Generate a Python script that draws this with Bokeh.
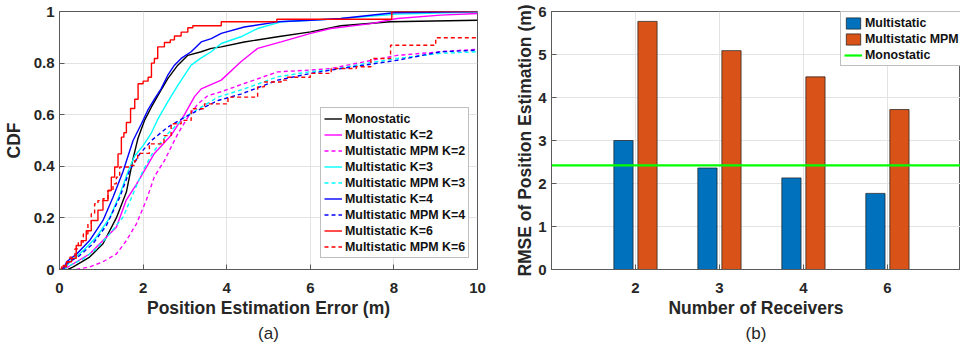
from bokeh.plotting import figure
from bokeh.layouts import row
from bokeh.models import (Range1d, FixedTicker, Legend, LegendItem, Title,
                          NumeralTickFormatter, ColumnDataSource)
from bokeh.transform import dodge
from bokeh.embed import file_html
from bokeh.resources import INLINE

FONT = "Liberation Sans"

# ---------------- (a) CDF of position estimation error ----------------
mono_x = [0.2, 0.33, 0.72, 1.04, 1.36, 1.6, 1.76, 1.88, 2.04, 2.2, 2.36, 2.59, 2.83, 3.07, 3.39, 3.63, 3.87, 4.42, 5.22, 6.01, 6.73, 7.92, 10]
mono_y = [0, 0.01, 0.048, 0.1, 0.2, 0.3, 0.43, 0.51, 0.58, 0.63, 0.676, 0.74, 0.792, 0.83, 0.844, 0.857, 0.863, 0.882, 0.902, 0.921, 0.945, 0.96, 0.966]

k2_x = [0.1, 0.41, 0.72, 1.04, 1.36, 1.6, 1.84, 2.08, 2.27, 2.67, 2.99, 3.23, 3.39, 3.87, 4.34, 4.74, 5.3, 6.01, 6.49, 7.45, 8.08, 9.12, 10]
k2_y = [0, 0.03, 0.06, 0.112, 0.164, 0.27, 0.33, 0.397, 0.45, 0.52, 0.6, 0.67, 0.70, 0.734, 0.805, 0.857, 0.882, 0.915, 0.934, 0.953, 0.973, 0.986, 0.992]

mpm2_x = [0.4, 0.72, 1.04, 1.36, 1.6, 1.84, 2.08, 2.27, 2.51, 2.83, 3.07, 3.31, 3.55, 3.87, 4.42, 5.22, 6.01, 6.49, 7.29, 8.08, 9.12, 10]
mpm2_y = [0, 0.01, 0.03, 0.06, 0.112, 0.177, 0.27, 0.36, 0.422, 0.526, 0.59, 0.642, 0.674, 0.689, 0.721, 0.766, 0.773, 0.779, 0.805, 0.83, 0.844, 0.854]

k3_x = [0.1, 0.25, 0.57, 0.88, 1.2, 1.44, 1.64, 1.8, 2.0, 2.2, 2.36, 2.59, 2.83, 3.15, 3.39, 3.63, 3.87, 4.34, 4.74, 5.3, 6.01, 6.73, 8.08, 10]
k3_y = [0, 0.03, 0.074, 0.125, 0.2, 0.29, 0.38, 0.44, 0.48, 0.53, 0.585, 0.65, 0.714, 0.792, 0.82, 0.844, 0.876, 0.902, 0.934, 0.96, 0.966, 0.973, 0.99, 0.998]

mpm3_x = [0.1, 0.25, 0.57, 0.88, 1.2, 1.52, 1.76, 2.0, 2.24, 2.59, 2.99, 3.39, 3.79, 4.42, 5.22, 6.01, 6.49, 7.29, 8.08, 9.12, 10]
mpm3_y = [0, 0.016, 0.041, 0.08, 0.138, 0.203, 0.293, 0.384, 0.455, 0.526, 0.59, 0.629, 0.668, 0.70, 0.747, 0.767, 0.773, 0.798, 0.818, 0.838, 0.844]

k4_x = [0.1, 0.17, 0.41, 0.72, 1.04, 1.28, 1.52, 1.76, 1.96, 2.12, 2.27, 2.43, 2.59, 2.75, 2.91, 3.15, 3.39, 3.63, 3.87, 4.42, 5.22, 6.01, 6.73, 8.0, 10]
k4_y = [0, 0.03, 0.06, 0.112, 0.19, 0.28, 0.38, 0.5, 0.565, 0.62, 0.66, 0.70, 0.753, 0.792, 0.818, 0.844, 0.882, 0.895, 0.915, 0.94, 0.96, 0.966, 0.973, 0.995, 1.0]

mpm4_x = [0.05, 0.17, 0.48, 0.8, 1.12, 1.44, 1.68, 1.92, 2.2, 2.59, 2.99, 3.39, 3.79, 4.34, 5.22, 6.01, 6.49, 7.29, 8.08, 9.12, 10]
mpm4_y = [0, 0.022, 0.054, 0.1, 0.17, 0.28, 0.384, 0.448, 0.5, 0.552, 0.59, 0.623, 0.655, 0.68, 0.734, 0.76, 0.773, 0.792, 0.811, 0.844, 0.85]

k6_x = [0, 0.05, 0.17, 0.29, 0.4, 0.52, 0.64, 0.76, 0.92, 1.04, 1.16, 1.24, 1.32, 1.4, 1.48, 1.54, 1.6, 1.7, 1.8, 1.88, 2.0, 2.12, 2.2, 2.27, 2.35, 2.51, 2.65, 2.75, 2.91, 3.07, 3.19, 3.87, 5.2, 7.95, 10]
k6_y = [0, 0.01, 0.03, 0.043, 0.093, 0.112, 0.15, 0.19, 0.23, 0.267, 0.306, 0.358, 0.397, 0.448, 0.513, 0.53, 0.57, 0.624, 0.66, 0.72, 0.73, 0.745, 0.8, 0.818, 0.863, 0.88, 0.89, 0.905, 0.92, 0.937, 0.945, 0.96, 0.97, 1.0, 1.0]

mpm6_x = [0, 0.09, 0.17, 0.25, 0.37, 0.45, 0.57, 0.68, 0.76, 0.84, 0.92, 1.04, 1.16, 1.28, 1.36, 1.44, 1.68, 1.8, 1.87, 2.15, 2.5, 2.67, 2.91, 3.15, 3.47, 4.03, 4.74, 4.9, 5.3, 5.45, 6.0, 6.5, 7.1, 7.45, 7.92, 9.0, 10]
mpm6_y = [0, 0.016, 0.03, 0.048, 0.08, 0.106, 0.138, 0.177, 0.216, 0.255, 0.267, 0.274, 0.306, 0.332, 0.358, 0.397, 0.403, 0.422, 0.45, 0.487, 0.519, 0.565, 0.578, 0.623, 0.642, 0.668, 0.708, 0.727, 0.734, 0.745, 0.76, 0.779, 0.786, 0.818, 0.869, 0.898, 0.898]

cdf_xticks = [0, 2, 4, 6, 8, 10]
cdf_yticks = [0, 0.2, 0.4, 0.6, 0.8, 1]

# ---------------- (b) RMSE vs number of receivers ----------------
receivers = ["2", "3", "4", "6"]
rmse_multi = [3.0, 2.36, 2.13, 1.77]
rmse_mpm = [5.77, 5.09, 4.48, 3.72]
rmse_mono = 2.42
rmse_yticks = [0, 1, 2, 3, 4, 5, 6]

AXC = "#5a5a5a"


def style(p):
    for ax in p.axis:
        ax.major_label_text_font = FONT
        ax.major_label_text_font_size = "15px"
        ax.major_label_text_font_style = "bold"
        ax.major_label_text_color = "#262626"
        ax.axis_label_text_font = FONT
        ax.axis_label_text_font_size = "17.5px"
        ax.axis_label_text_font_style = "bold"
        ax.axis_label_text_color = "#262626"
        ax.axis_line_color = AXC
        ax.major_tick_line_color = AXC
        ax.major_tick_in = 5
        ax.major_tick_out = 0
        ax.minor_tick_line_color = None
    p.xaxis.major_label_standoff = 13
    p.xaxis.axis_label_standoff = 2
    p.yaxis.major_label_standoff = 5
    p.grid.grid_line_color = "#e3e3e3"
    p.grid.grid_line_width = 1
    p.outline_line_color = AXC
    p.outline_line_width = 1
    p.background_fill_color = "white"
    p.border_fill_color = "white"


def legend_style(lg):
    lg.label_text_font = FONT
    lg.label_text_font_size = "12.4px"
    lg.label_text_font_style = "bold"
    lg.label_text_color = "#111111"
    lg.glyph_width = 18
    lg.label_standoff = 3
    lg.padding = 3
    lg.spacing = 1
    lg.margin = 0
    lg.border_line_color = "#808080"
    lg.border_line_width = 1
    lg.background_fill_color = "white"
    lg.background_fill_alpha = 1


# ---------- figure (a) ----------
p1 = figure(width=490, height=347, x_range=Range1d(cdf_xticks[0], cdf_xticks[-1]),
            y_range=Range1d(cdf_yticks[0], cdf_yticks[-1]),
            output_backend="svg", toolbar_location=None,
            min_border_left=58, min_border_right=13, min_border_top=11, min_border_bottom=78)
p1.xaxis.ticker = FixedTicker(ticks=cdf_xticks)
p1.yaxis.ticker = FixedTicker(ticks=cdf_yticks)
p1.yaxis.formatter = NumeralTickFormatter(format="0.[0]")
p1.xaxis.axis_label = "Position Estimation Error (m)"
p1.yaxis.axis_label = "CDF"
style(p1)
p1.yaxis.axis_label_standoff = 7

LW = 1.4
DASH = "4 3"
r_mono = p1.line(mono_x, mono_y, line_color="black", line_width=LW)
r_k2 = p1.line(k2_x, k2_y, line_color="#FF00FF", line_width=LW)
r_mpm2 = p1.line(mpm2_x, mpm2_y, line_color="#FF00FF", line_width=LW, line_dash=DASH)
r_k3 = p1.line(k3_x, k3_y, line_color="#00FFFF", line_width=LW)
r_mpm3 = p1.line(mpm3_x, mpm3_y, line_color="#00FFFF", line_width=LW, line_dash=DASH)
r_k4 = p1.line(k4_x, k4_y, line_color="#0000FF", line_width=LW)
r_mpm4 = p1.line(mpm4_x, mpm4_y, line_color="#0000FF", line_width=LW, line_dash=DASH)
r_k6 = p1.step(k6_x, k6_y, mode="after", line_color="#FF0000", line_width=LW)
r_mpm6 = p1.step(mpm6_x, mpm6_y, mode="after", line_color="#FF0000", line_width=LW, line_dash=DASH)

items1 = [
    LegendItem(label="Monostatic", renderers=[r_mono]),
    LegendItem(label="Multistatic K=2", renderers=[r_k2]),
    LegendItem(label="Multistatic MPM K=2", renderers=[r_mpm2]),
    LegendItem(label="Multistatic K=3", renderers=[r_k3]),
    LegendItem(label="Multistatic MPM K=3", renderers=[r_mpm3]),
    LegendItem(label="Multistatic K=4", renderers=[r_k4]),
    LegendItem(label="Multistatic MPM K=4", renderers=[r_mpm4]),
    LegendItem(label="Multistatic K=6", renderers=[r_k6]),
    LegendItem(label="Multistatic MPM K=6", renderers=[r_mpm6]),
]
lg1 = Legend(items=items1, location=(261, 11))
legend_style(lg1)
lg1.glyph_height = 15
lg1.label_height = 15
p1.add_layout(lg1)
p1.add_layout(Title(text="(a)", align="center", text_font=FONT, text_font_size="17px",
                    text_font_style="normal", text_color="#262626", standoff=2), "below")

# ---------- figure (b) ----------
pos = list(range(1, len(receivers) + 1))
src = ColumnDataSource(dict(pos=pos, multi=rmse_multi, mpm=rmse_mpm))

p2 = figure(width=470, height=347, x_range=Range1d(0, 4.87),
            y_range=Range1d(rmse_yticks[0], rmse_yticks[-1]),
            output_backend="svg", toolbar_location=None,
            min_border_left=61, min_border_right=0, min_border_top=11, min_border_bottom=78)
p2.xaxis.ticker = FixedTicker(ticks=pos)
p2.xaxis.major_label_overrides = {p: r for p, r in zip(pos, receivers)}
p2.yaxis.ticker = FixedTicker(ticks=rmse_yticks)
p2.xaxis.axis_label = "Number of Receivers"
p2.yaxis.axis_label = "RMSE of Position Estimation (m)"
style(p2)
p2.yaxis.axis_label_standoff = 0

b1 = p2.vbar(x=dodge("pos", -0.143, range=p2.x_range), top="multi", width=0.229, source=src,
             fill_color="#0072BD", line_color="#1a1a1a", line_width=0.7)
b2 = p2.vbar(x=dodge("pos", 0.143, range=p2.x_range), top="mpm", width=0.229, source=src,
             fill_color="#D95319", line_color="#1a1a1a", line_width=0.7)
g1 = p2.line(x=[0, len(receivers) + 1], y=[rmse_mono, rmse_mono], line_color="#00FF00", line_width=2.2)

lg2 = Legend(items=[LegendItem(label="Multistatic", renderers=[b1]),
                    LegendItem(label="Multistatic MPM", renderers=[b2]),
                    LegendItem(label="Monostatic", renderers=[g1])],
             location=(289, 203))
legend_style(lg2)
lg2.glyph_height = 14
lg2.label_height = 15
p2.add_layout(lg2)
p2.add_layout(Title(text="(b)", align="center", text_font=FONT, text_font_size="17px",
                    text_font_style="normal", text_color="#262626", standoff=2), "below")

layout = row(p1, p2)
open("out.html", "w").write(file_html(layout, INLINE))
